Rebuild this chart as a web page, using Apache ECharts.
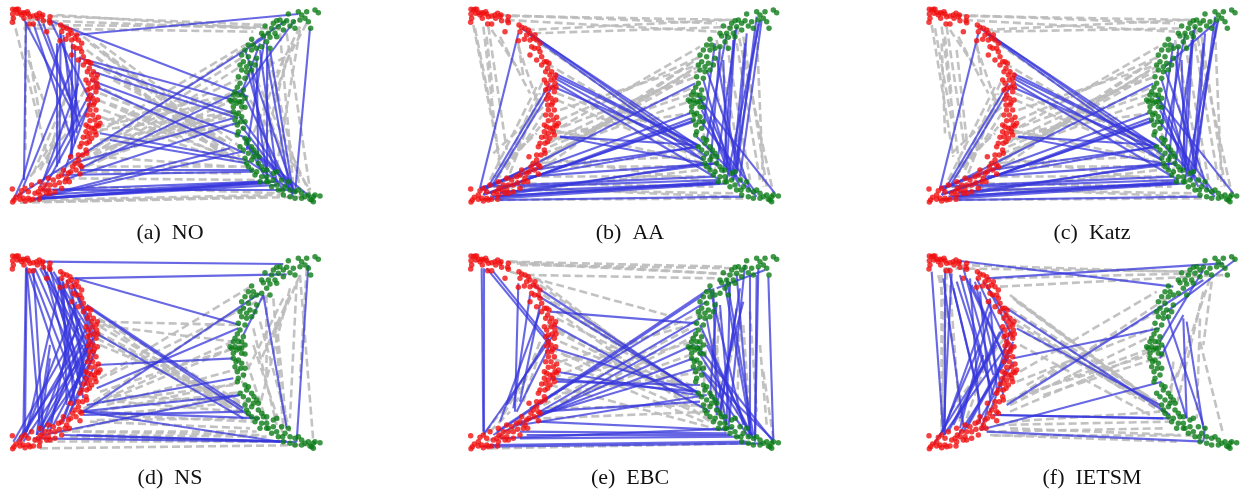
<!DOCTYPE html>
<html><head><meta charset="utf-8">
<style>html,body{margin:0;padding:0;background:#fff}#c{width:1243px;height:495px}</style>
<script src="https://cdn.jsdelivr.net/npm/echarts@6/dist/echarts.min.js"></script></head>
<body><div id="c"></div>
<script>
const labels = ['(a)\u00a0\u00a0NO','(b)\u00a0\u00a0AA','(c)\u00a0\u00a0Katz','(d)\u00a0\u00a0NS','(e)\u00a0\u00a0EBC','(f)\u00a0\u00a0IETSM'];
const redNodes = [[38,28],[45,30],[50,28],[38,42],[52,40],[40,55],[37,67],[60,38],[65,45],[70,38],[75,40],[85,42],[82,35],[72,55],[100,48],[110,45],[118,40],[128,45],[112,55],[150,50],[148,62],[150,68],[130,62],[88,72],[100,72],[140,95],[182,75],[190,82],[200,85],[210,90],[185,95],[215,100],[230,105],[225,115],[235,120],[180,122],[198,118],[215,120],[240,145],[228,145],[215,165],[245,155],[235,180],[250,170],[258,185],[265,185],[272,190],[250,195],[268,205],[280,215],[275,225],[258,240],[288,235],[290,250],[265,250],[270,265],[293,262],[288,275],[270,285],[265,298],[283,308],[280,315],[270,330],[278,345],[295,352],[270,362],[290,375],[283,385],[275,385],[265,380],[295,378],[258,395],[285,395],[262,410],[275,415],[245,430],[260,430],[268,425],[258,450],[260,460],[248,465],[212,470],[235,480],[225,490],[240,495],[245,500],[190,510],[205,520],[185,525],[240,522],[212,515],[200,535],[208,545],[175,530],[145,535],[160,540],[120,545],[95,555],[135,555],[150,555],[165,555],[122,565],[130,570],[145,570],[165,575],[185,565],[115,575],[120,585],[150,580],[75,565],[65,572],[60,585],[37,567],[48,592],[42,600],[38,606],[70,595],[85,595],[100,598],[75,603],[118,598],[90,600],[220,140],[205,105],[245,130],[262,215],[292,225],[278,240],[262,270],[282,262],[278,295],[292,300],[268,315],[288,330],[262,345],[285,360],[300,370],[258,375],[270,400],[288,405],[250,412],[240,440],[235,465],[218,500],[228,510],[195,545],[178,548],[140,580],[105,580],[85,575],[60,598],[55,28],[90,50],[125,50]];
const greenNodes = [[955,38],[945,30],[920,35],[895,35],[905,45],[865,42],[925,65],[932,85],[915,55],[900,60],[880,65],[860,62],[850,70],[830,62],[820,70],[795,78],[815,85],[850,90],[835,80],[825,100],[805,100],[785,100],[790,108],[810,112],[800,125],[755,118],[785,140],[770,145],[810,145],[755,150],[735,150],[725,165],[745,170],[770,175],[730,185],[720,195],[750,190],[755,210],[725,210],[740,215],[715,230],[735,235],[720,250],[712,262],[730,270],[700,285],[715,285],[705,300],[735,295],[695,305],[710,310],[700,320],[725,320],[735,322],[700,335],[715,340],[725,350],[705,360],[735,365],[712,375],[715,395],[712,405],[735,415],[720,440],[740,430],[755,440],[730,450],[745,460],[770,460],[760,470],[735,475],[740,490],[755,480],[775,490],[755,510],[770,515],[790,510],[765,525],[785,530],[800,530],[780,545],[805,545],[820,520],[830,515],[815,560],[830,555],[835,570],[855,560],[865,545],[850,585],[870,570],[885,575],[885,595],[905,580],[915,590],[925,585],[940,590],[945,585],[960,588],[935,600],[940,605],[870,590],[840,60],[870,78],[885,85],[830,110],[760,135],[745,135],[740,200],[765,195],[705,275],[725,285],[690,300],[718,305],[708,345],[722,365],[730,385],[745,420],[762,450],[775,470],[785,500],[745,500],[800,510],[800,545],[845,540],[848,570],[905,595],[895,570],[930,598],[820,540],[725,305]];

const blueA = [[78,65,72,540],[72,530,40,600],[170,130,170,500],[182,100,178,490],[70,55,215,330],[100,70,215,420],[110,50,210,300],[130,70,240,380],[150,60,270,300],[180,100,240,350],[190,105,225,430],[215,130,215,470],[225,150,230,400],[240,170,210,480],[215,210,70,560],[270,280,120,560],[280,280,190,520],[270,310,130,570],[180,130,70,530],[235,250,130,540],[225,105,895,42],[150,62,745,290],[240,175,700,300],[265,190,700,340],[280,215,715,355],[270,240,730,410],[290,262,735,460],[300,400,740,480],[330,420,740,490],[50,590,790,115],[240,505,735,265],[220,490,700,355],[190,540,720,365],[120,590,690,445],[100,598,725,455],[185,525,760,515],[125,570,780,545],[125,595,800,550],[100,598,830,545],[160,570,880,570],[240,510,760,510],[130,585,790,545],[735,150,880,570],[800,130,800,540],[810,150,880,580],[745,220,830,540],[725,270,880,590],[720,350,890,580],[795,110,740,450],[930,85,885,580],[860,60,760,130],[885,60,730,270],[780,130,720,290],[770,175,775,500],[800,170,870,570],[735,420,800,540],[740,440,880,560],[780,150,830,520],[755,210,800,520],[725,380,880,580],[730,410,850,570],[770,460,930,590],[125,595,830,555],[110,595,780,548],[740,480,880,575],[210,400,225,300]];
const grayA = [[38,50,150,500],[75,70,75,450],[85,150,120,350],[85,180,130,300],[150,48,800,75],[170,45,860,90],[70,85,760,95],[75,75,800,80],[80,60,760,85],[250,110,680,430],[270,130,660,440],[280,190,650,420],[290,170,680,470],[310,160,720,470],[300,280,660,420],[295,300,700,480],[310,330,740,490],[330,310,680,450],[290,400,760,120],[280,440,860,170],[240,510,720,200],[170,520,780,115],[220,500,730,170],[320,360,720,280],[290,380,700,300],[300,420,700,350],[270,450,720,370],[140,490,200,280],[120,510,260,260],[100,520,215,250],[90,530,250,340],[130,470,200,360],[110,600,840,585],[60,608,930,590],[90,605,800,590],[260,560,850,580],[200,535,780,540],[160,515,730,520],[290,500,750,500],[290,470,700,500],[770,240,930,580],[860,100,930,570],[900,90,830,500],[880,130,820,300],[840,100,880,560],[800,140,900,560],[790,300,880,560],[750,300,930,570],[860,180,780,480],[840,210,760,400],[810,180,790,380],[920,70,850,200],[900,80,830,220],[770,350,850,560],[300,350,650,470],[300,130,720,440],[260,150,650,450],[300,480,700,330],[260,500,700,300],[250,480,690,280],[330,440,730,330],[340,240,690,430],[280,250,720,480],[300,390,680,340]];

const blueB = [[205,100,90,565],[310,255,130,550],[300,250,100,585],[215,85,740,435],[240,105,760,480],[315,220,745,435],[315,235,760,480],[320,250,810,540],[310,260,730,440],[330,410,740,435],[330,410,760,490],[100,570,735,250],[130,555,720,340],[100,585,735,360],[110,580,730,365],[250,510,745,440],[130,590,760,490],[150,580,800,490],[120,590,790,550],[145,590,810,545],[100,598,830,550],[150,600,880,590],[100,560,790,530],[210,560,800,540],[150,575,810,550],[230,530,800,490],[260,525,740,440],[90,565,270,500],[90,570,265,490],[930,60,830,540],[920,50,860,520],[925,70,850,540],[935,60,870,530],[860,80,800,500],[855,90,830,510],[830,100,770,420],[810,140,780,510],[885,130,850,510],[795,130,760,380],[760,240,850,540],[750,290,840,530],[755,330,870,560],[750,360,920,580],[740,410,920,590],[745,290,975,580],[770,210,900,570],[800,170,860,500],[820,180,830,500],[850,120,820,520],[890,100,860,510],[780,350,860,530],[315,228,750,440],[240,100,770,470],[120,580,725,355]];
const grayB = [[70,75,150,480],[100,80,150,510],[115,80,170,450],[75,85,130,360],[110,110,130,290],[125,90,200,200],[150,110,240,280],[205,130,220,230],[205,140,260,300],[130,460,280,320],[170,510,290,260],[140,530,270,380],[190,480,280,340],[150,500,260,400],[180,48,860,60],[150,45,800,70],[230,90,830,60],[250,100,860,80],[170,60,800,95],[240,110,760,470],[290,190,730,450],[320,280,720,430],[320,300,740,470],[310,390,770,490],[270,510,750,170],[300,470,760,190],[310,420,750,210],[330,360,750,170],[330,330,730,200],[300,400,750,140],[260,500,720,190],[280,480,725,210],[300,440,735,260],[240,500,700,240],[280,460,730,300],[320,400,720,340],[150,580,750,510],[130,530,780,530],[290,500,790,500],[330,480,810,550],[240,490,710,470],[100,600,890,595],[130,560,840,590],[250,570,860,580],[200,550,790,560],[860,80,970,580],[920,90,940,560],[880,110,950,560],[860,130,930,540],[830,130,900,540],[800,280,880,550],[800,120,880,520],[760,400,800,520],[180,520,270,280],[165,500,280,240],[120,540,260,260],[290,430,730,280],[340,380,740,230]];

const blueC = [[205,100,90,565],[305,255,125,550],[295,250,95,585],[210,85,735,435],[235,105,755,480],[310,220,740,435],[310,235,755,480],[315,250,805,540],[305,260,725,440],[325,410,735,435],[325,410,755,490],[95,570,730,250],[125,555,715,340],[95,585,730,360],[105,580,725,365],[245,510,740,440],[125,590,755,490],[145,580,795,490],[115,590,785,550],[140,590,805,545],[95,598,825,550],[145,600,875,590],[95,560,785,530],[205,560,795,540],[145,575,805,550],[225,530,795,490],[255,525,735,440],[90,565,265,500],[925,60,825,540],[915,50,855,520],[920,70,845,540],[855,80,795,500],[850,90,825,510],[825,100,765,420],[805,140,775,510],[880,130,845,510],[790,130,755,380],[755,240,845,540],[745,290,835,530],[750,330,865,560],[745,360,915,580],[735,410,915,590],[740,290,970,580],[765,210,895,570],[795,170,855,500],[815,180,825,500],[845,120,815,520],[885,100,855,510],[775,350,855,530],[920,65,765,200],[310,228,745,440],[235,100,765,470],[115,580,720,355]];
const grayC = [[65,75,130,470],[95,80,150,510],[110,80,165,450],[75,85,125,360],[105,110,125,290],[120,90,195,200],[145,110,235,280],[200,130,215,230],[200,140,255,300],[125,460,275,320],[165,510,285,260],[135,530,265,380],[185,480,275,340],[145,500,255,400],[95,130,105,400],[140,150,170,420],[175,48,855,60],[145,45,795,70],[225,90,825,60],[245,95,820,85],[165,60,795,95],[235,110,755,470],[285,190,725,450],[315,280,715,430],[315,300,735,470],[305,390,765,490],[265,510,745,170],[295,470,755,190],[305,420,745,210],[325,360,745,170],[325,330,725,200],[295,400,745,140],[255,500,715,190],[275,480,720,210],[295,440,730,260],[235,500,695,240],[275,460,725,300],[315,400,715,340],[145,580,745,510],[125,530,775,530],[285,500,785,500],[325,480,805,550],[235,490,705,470],[95,600,885,595],[125,560,835,590],[245,570,855,580],[195,550,785,560],[855,80,965,580],[915,90,935,560],[875,110,945,560],[855,130,925,540],[825,130,895,540],[795,280,875,550],[795,120,875,520],[755,400,795,520],[175,520,265,280],[160,500,275,240],[115,540,255,260],[285,430,725,280],[335,380,735,230]];

const blueD = [[130,50,850,57],[215,100,860,88],[225,100,720,240],[80,65,75,570],[78,70,70,570],[100,70,130,570],[80,70,120,550],[85,80,215,470],[95,80,230,430],[105,70,250,400],[120,70,270,350],[130,70,260,310],[145,70,280,300],[150,70,240,420],[175,95,250,460],[185,100,260,400],[200,105,270,350],[215,110,285,300],[220,120,285,280],[190,110,200,480],[130,60,220,400],[160,80,270,260],[40,590,235,250],[50,590,250,300],[70,590,270,300],[120,570,280,280],[110,570,260,300],[120,560,240,220],[130,550,280,340],[190,530,270,290],[160,540,265,340],[210,500,285,320],[75,570,230,170],[80,560,180,120],[215,470,270,260],[200,520,280,370],[150,560,220,200],[120,560,150,340],[110,570,150,300],[260,180,730,490],[270,190,760,520],[280,260,730,520],[290,360,700,340],[290,430,715,250],[250,500,780,145],[260,480,700,400],[240,500,720,450],[130,570,720,450],[250,510,730,500],[240,500,780,520],[190,570,860,590],[250,500,840,590],[100,580,840,590],[230,570,860,590],[925,60,890,590],[790,150,860,550],[790,150,730,270],[860,590,890,590],[140,80,260,420],[170,100,280,330],[230,140,285,260],[215,130,250,380],[180,120,225,480],[60,590,260,250],[140,560,250,270],[180,540,280,300]];
const grayD = [[290,240,700,290],[290,230,720,240],[290,260,730,490],[295,270,740,500],[290,280,760,520],[300,300,730,480],[295,220,720,470],[300,400,760,120],[280,470,720,190],[330,390,810,150],[250,490,720,280],[300,440,730,300],[240,500,700,310],[320,480,720,370],[300,500,730,410],[190,560,700,450],[300,510,740,470],[120,610,940,600],[100,590,850,590],[250,560,780,570],[210,575,800,590],[270,530,750,550],[320,510,760,530],[180,560,770,560],[280,570,800,575],[350,470,720,500],[900,90,940,590],[920,70,900,400],[890,110,870,520],[870,130,780,480],[820,160,850,550],[830,230,860,550],[760,250,830,540],[800,150,800,400],[780,230,870,560],[760,300,850,570],[740,350,800,530],[870,150,780,350],[850,160,730,400],[900,90,810,300],[320,470,700,420],[300,245,740,500],[310,235,720,510],[330,490,730,440],[340,450,680,470],[290,525,740,520]];

const blueE = [[100,70,100,565],[95,70,100,560],[205,115,195,500],[130,80,300,290],[110,70,300,300],[240,150,190,490],[270,200,150,530],[300,270,170,480],[310,270,100,570],[300,300,200,500],[270,180,210,470],[300,200,740,235],[260,150,740,440],[250,120,750,450],[310,240,780,500],[310,310,730,440],[320,380,740,450],[300,400,745,440],[320,410,750,420],[130,570,760,150],[240,490,770,170],[270,500,750,220],[140,560,780,130],[260,520,740,250],[160,560,730,300],[190,540,730,340],[270,510,740,370],[210,540,770,450],[270,500,750,470],[210,560,830,565],[260,530,830,555],[230,570,840,570],[120,600,890,590],[100,605,940,595],[210,580,870,575],[150,580,850,550],[955,95,970,585],[925,70,915,590],[920,90,915,580],[885,60,835,550],[900,90,900,570],[860,90,900,570],[830,100,910,570],[790,130,800,510],[780,130,880,540],[810,180,840,530],[800,170,780,460],[870,130,810,510],[880,170,800,480],[860,190,810,500],[770,220,830,540],[750,240,900,570],[770,300,910,580],[745,320,905,570],[750,370,900,580],[760,380,970,585],[740,300,970,590],[780,440,830,540],[945,75,800,130],[825,120,905,575],[840,110,830,530]];
const grayE = [[200,55,880,90],[180,50,820,65],[210,60,860,70],[230,90,800,100],[170,50,800,85],[180,80,650,210],[260,100,690,430],[270,120,750,460],[280,150,700,420],[300,170,720,440],[320,200,780,530],[290,240,680,420],[320,260,760,490],[300,310,800,530],[310,340,760,530],[300,420,830,560],[330,350,720,240],[310,400,760,200],[280,480,720,250],[330,470,720,330],[320,410,730,290],[300,450,760,380],[110,590,760,260],[120,560,180,500],[230,400,100,570],[280,300,160,510],[270,290,200,470],[260,350,220,470],[120,610,900,595],[280,520,780,500],[290,490,780,480],[800,300,820,520],[780,400,820,500],[870,230,860,530],[880,240,900,540],[940,380,970,580],[930,300,950,540],[900,200,920,500],[860,260,800,520],[810,200,790,450],[790,280,780,420],[770,280,760,450],[340,330,700,420],[320,220,740,430],[330,290,730,460]];

const blueF = [[150,48,790,125],[230,100,940,55],[65,80,100,565],[105,75,105,570],[125,85,100,560],[100,100,160,540],[130,130,210,470],[150,90,240,420],[160,70,250,390],[170,100,280,330],[200,100,290,290],[220,110,310,240],[230,120,310,280],[115,70,195,400],[180,100,210,530],[195,110,280,450],[70,600,260,300],[100,570,300,290],[115,560,270,260],[150,550,240,200],[90,575,210,300],[145,570,300,330],[200,540,310,350],[160,560,310,290],[100,560,240,170],[215,550,300,260],[150,520,220,330],[240,500,290,370],[310,340,750,250],[320,250,750,480],[290,190,780,510],[210,555,755,410],[250,510,780,520],[270,510,760,520],[230,560,880,590],[290,480,880,105],[975,45,770,200],[880,75,750,290],[820,220,830,520],[830,230,880,550],[750,340,820,210],[770,210,880,540],[760,300,830,520],[885,545,880,590],[140,110,250,450],[185,120,290,350],[210,140,240,460],[130,540,280,250],[170,550,310,300],[240,160,260,430]];
const grayF = [[95,90,95,550],[85,90,130,300],[100,200,100,530],[110,80,95,560],[120,120,150,530],[150,60,800,80],[100,70,880,80],[270,125,940,90],[250,100,860,85],[300,150,760,490],[320,170,780,510],[300,190,750,500],[330,210,740,470],[320,240,720,470],[340,260,760,500],[280,200,680,460],[330,300,720,510],[330,380,740,140],[300,470,770,160],[350,420,760,190],[320,410,730,250],[300,480,710,280],[290,470,750,300],[330,450,720,330],[400,450,770,330],[230,560,760,550],[300,530,750,500],[250,570,860,570],[260,540,780,530],[300,550,810,570],[240,570,800,590],[880,140,800,480],[905,110,880,300],[870,290,940,570],[820,350,780,430],[900,100,800,400],[780,480,790,350],[870,220,860,520],[120,500,290,270],[170,520,250,290],[310,160,730,470],[300,500,740,310]];

const blues = [blueA,blueB,blueC,blueD,blueE,blueF];
const grays = [grayA,grayB,grayC,grayD,grayE,grayF];
const panelLeft = [0,450,910,0,450,910], panelTop = [0,0,0,245,245,245];
const panelWidth = [340,340,333,340,340,333], labelX = [170,630,1092,170,630,1092];
const nodeShiftX = [0,25,20,0,25,20], nodeShiftY = [0,0,0,5,5,5];
const toLines = e => e.map(d => ({coords:[[d[0],d[1]],[d[2],d[3]]]}));

const grid=[],xAxis=[],yAxis=[],series=[],title=[];
labels.forEach((t,i)=>{
  grid.push({left:panelLeft[i],top:panelTop[i],width:panelWidth[i],height:250});
  xAxis.push({gridIndex:i,type:'value',min:0,max:panelWidth[i]*3,show:false});
  yAxis.push({gridIndex:i,type:'value',min:0,max:750,inverse:true,show:false});
  series.push({type:'lines',coordinateSystem:'cartesian2d',xAxisIndex:i,yAxisIndex:i,silent:true,z:2,
    lineStyle:{color:'#bbbbbb',width:2.6,type:[8,4],opacity:0.9},data:toLines(grays[i])});
  series.push({type:'lines',coordinateSystem:'cartesian2d',xAxisIndex:i,yAxisIndex:i,silent:true,z:3,
    lineStyle:{color:'#3636dc',width:2.1,opacity:0.75},data:toLines(blues[i])});
  const shift = p => [p[0]+nodeShiftX[i],p[1]+nodeShiftY[i]];
  series.push({type:'scatter',xAxisIndex:i,yAxisIndex:i,z:4,symbolSize:5.5,silent:true,
    itemStyle:{color:'#f01010',opacity:0.8},data:redNodes.map(shift)});
  series.push({type:'scatter',xAxisIndex:i,yAxisIndex:i,z:4,symbolSize:5.5,silent:true,
    itemStyle:{color:'#0c7d18',opacity:0.8},data:greenNodes.map(shift)});
  title.push({text:t,left:labelX[i],top:panelTop[i]+222,textAlign:'center',padding:0,
    textStyle:{fontFamily:'Liberation Serif',fontWeight:'normal',fontSize:22,color:'#111'}});
});
const chart = echarts.init(document.getElementById('c'),null,{renderer:'canvas'});
chart.setOption({animation:false,backgroundColor:'#fff',title,grid,xAxis,yAxis,series});
</script></body></html>
